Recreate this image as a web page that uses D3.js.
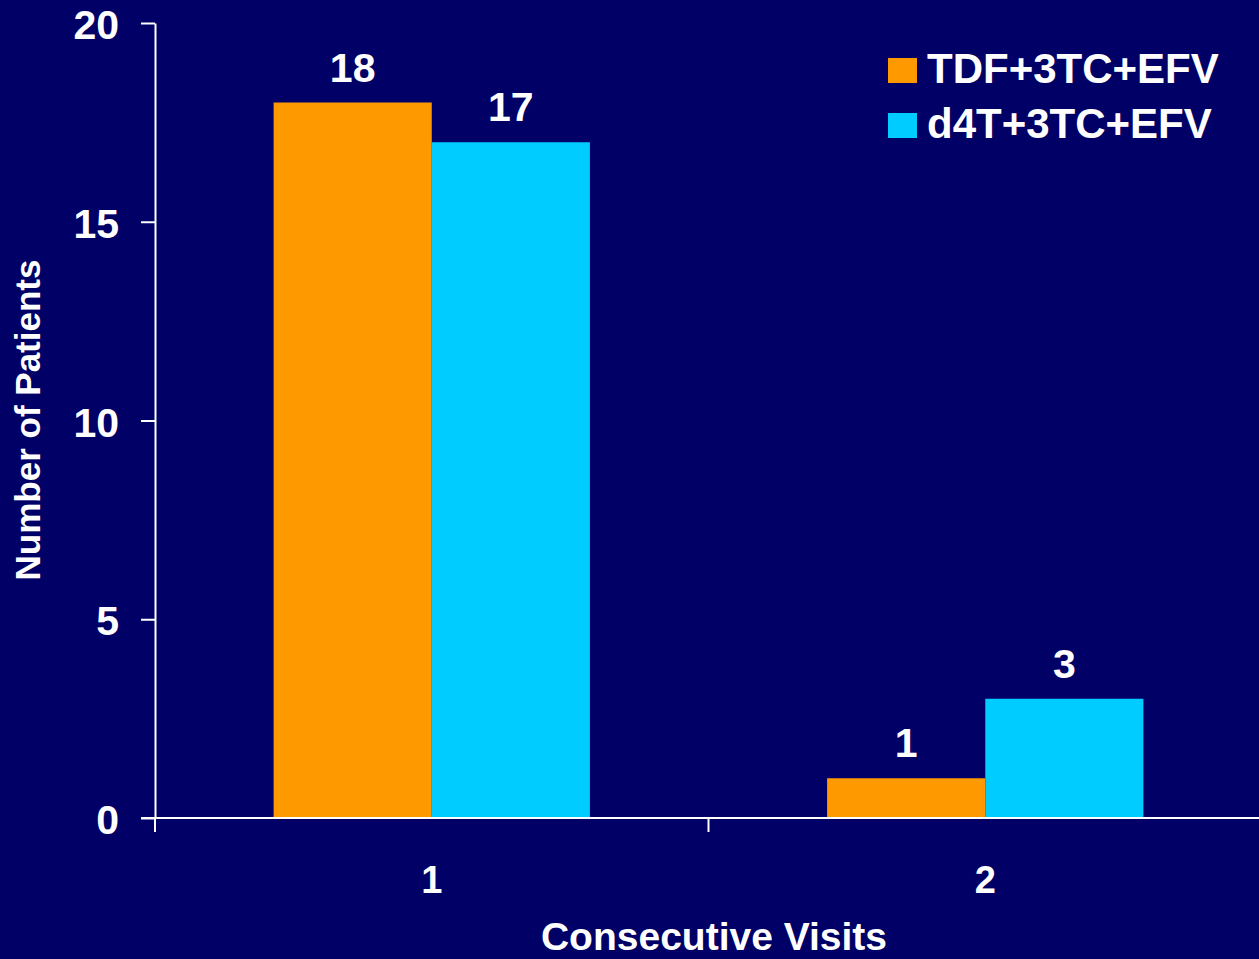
<!DOCTYPE html>
<html>
<head>
<meta charset="utf-8">
<script src="https://cdn.jsdelivr.net/npm/d3@7"></script>
<style>
  html, body { margin: 0; padding: 0; background: #000066; overflow: hidden; }
  svg { display: block; font-family: 'Liberation Sans', Arial, sans-serif; font-weight: bold; }
</style>
</head>
<body>
<div id="chart"></div>
<script>
const categories = ['1', '2']
const seriesNames = ['TDF+3TC+EFV', 'd4T+3TC+EFV']
const tdfValues = [18, 1]
const d4tValues = [17, 3]
const yTicks = [0, 5, 10, 15, 20]
const colors = ['#ff9900', '#00ccff']

const width = 1259
const height = 959
const bgColor = '#000066'
const axisColor = '#ffffff'

const data = categories.map((c, i) => ({
  category: c,
  values: [tdfValues[i], d4tValues[i]],
}))

const svg = d3
  .select('#chart')
  .append('svg')
  .attr('width', width)
  .attr('height', height)

svg
  .append('rect')
  .attr('width', width)
  .attr('height', height)
  .attr('fill', bgColor)

const xScale = d3.scaleBand().domain(categories).range([155, 1262])
const xSub = d3
  .scaleBand()
  .domain(seriesNames)
  .range([0, xScale.bandwidth()])
  .paddingInner(0)
  .paddingOuter(0.75)
const yScale = d3.scaleLinear().domain([0, 20]).range([818, 23])

// bars
const groups = svg
  .append('g')
  .selectAll('g')
  .data(data)
  .join('g')
  .attr('transform', d => `translate(${xScale(d.category)},0)`)

groups
  .selectAll('rect')
  .data(d => d.values.map((v, i) => ({ name: seriesNames[i], value: v, i })))
  .join('rect')
  .attr('x', d => xSub(d.name))
  .attr('y', d => yScale(d.value))
  .attr('width', xSub.bandwidth())
  .attr('height', d => yScale(0) - yScale(d.value))
  .attr('fill', d => colors[d.i])

groups
  .selectAll('text')
  .data(d => d.values.map((v, i) => ({ name: seriesNames[i], value: v })))
  .join('text')
  .attr('x', d => xSub(d.name) + xSub.bandwidth() / 2)
  .attr('y', d => yScale(d.value) - 21)
  .attr('text-anchor', 'middle')
  .attr('fill', axisColor)
  .style('font-size', '41px')
  .text(d => d.value)

// y axis
const yAxis = d3.axisLeft(yScale).tickValues(yTicks).tickSize(14).tickSizeOuter(0)
svg
  .append('g')
  .attr('transform', 'translate(155,0)')
  .call(yAxis)
  .call(g => {
    g.select('.domain').attr('stroke', axisColor).attr('stroke-width', 2)
    g.selectAll('.tick line').attr('stroke', axisColor).attr('stroke-width', 2)
    g.selectAll('.tick text')
      .attr('fill', axisColor)
      .attr('x', -36)
      .attr('dy', '0.38em')
      .style('font-size', '41px')
      .style('font-family', "'Liberation Sans', Arial, sans-serif")
      .style('font-weight', 'bold')
  })

// x axis, ticks sit on the category boundaries
const boundaries = [155, 155 + xScale.bandwidth(), 155 + 2 * xScale.bandwidth()]
const xAxisGroup = svg.append('g').attr('transform', `translate(0,${yScale(0)})`)
xAxisGroup
  .append('line')
  .attr('x1', 141)
  .attr('x2', width)
  .attr('stroke', axisColor)
  .attr('stroke-width', 2)
xAxisGroup
  .selectAll('.xtick')
  .data(boundaries)
  .join('line')
  .attr('class', 'xtick')
  .attr('x1', d => d)
  .attr('x2', d => d)
  .attr('y1', 0)
  .attr('y2', 14)
  .attr('stroke', axisColor)
  .attr('stroke-width', 2)

svg
  .append('g')
  .selectAll('text')
  .data(categories)
  .join('text')
  .attr('x', d => xScale(d) + xScale.bandwidth() / 2)
  .attr('y', 893)
  .attr('text-anchor', 'middle')
  .attr('fill', axisColor)
  .style('font-size', '38px')
  .text(d => d)

// axis titles
svg
  .append('text')
  .attr('x', 714)
  .attr('y', 950)
  .attr('text-anchor', 'middle')
  .attr('fill', axisColor)
  .style('font-size', '39px')
  .text('Consecutive Visits')

svg
  .append('text')
  .attr('transform', 'translate(40,420) rotate(-90)')
  .attr('text-anchor', 'middle')
  .attr('fill', axisColor)
  .style('font-size', '35px')
  .text('Number of Patients')

// legend
const legend = svg
  .append('g')
  .selectAll('g')
  .data(seriesNames)
  .join('g')
  .attr('transform', (d, i) => `translate(888,${58 + i * 55})`)

legend
  .append('rect')
  .attr('width', 29)
  .attr('height', 25)
  .attr('fill', (d, i) => colors[i])

legend
  .append('text')
  .attr('x', 39)
  .attr('y', 25)
  .attr('fill', axisColor)
  .style('font-size', '42px')
  .text(d => d)
</script>
</body>
</html>
